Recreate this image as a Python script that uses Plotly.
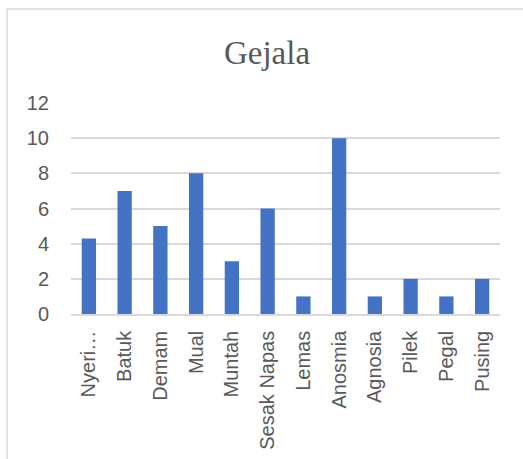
import plotly.graph_objects as go

categories = ["Nyeri…", "Batuk", "Demam", "Mual", "Muntah", "Sesak Napas",
              "Lemas", "Anosmia", "Agnosia", "Pilek", "Pegal", "Pusing"]
values = [4.3, 7, 5, 8, 3, 6, 1, 10, 1, 2, 1, 2]
y_ticks = [0, 2, 4, 6, 8, 10, 12]

W, H = 523, 459
ML, MR, MT, MB = 71, 23, 103, 145
pw = W - ML - MR
ph = H - MT - MB

def px(x):
    return (x - ML) / pw

def py(y):
    return (H - MB - y) / ph

fig = go.Figure(go.Bar(x=categories, y=values, marker_color="#4472C4",
                       marker_line_width=0))

fig.update_layout(
    width=W, height=H,
    margin=dict(l=ML, r=MR, t=MT, b=MB, autoexpand=False),
    paper_bgcolor="white", plot_bgcolor="white",
    bargap=0.6,
    showlegend=False,
    title=dict(text="Gejala", x=267 / W, xref="container", xanchor="center",
               y=1 - 52 / H, yref="container", yanchor="middle",
               font=dict(family="Liberation Serif", size=33, color="#595959")),
    font=dict(family="Liberation Sans", color="#595959", size=20),
)
fig.update_yaxes(range=[0, 12], tickvals=y_ticks, showgrid=True,
                 gridcolor="#D9D9D9", gridwidth=1.5, zeroline=False,
                 showline=False, ticks="outside", ticklen=17, automargin=False,
                 tickcolor="rgba(0,0,0,0)", tickfont=dict(size=20, color="#595959"))
fig.update_xaxes(tickangle=-90, showgrid=False, showline=True, automargin=False,
                 linecolor="#D9D9D9", linewidth=1.5, ticks="outside",
                 ticklen=7, tickcolor="rgba(0,0,0,0)",
                 tickfont=dict(size=20, color="#595959"))

fig.add_shape(type="line", xref="paper", yref="paper",
              x0=px(7), x1=px(7), y0=py(9), y1=py(470),
              line=dict(color="#D9D9D9", width=1.5))
fig.add_shape(type="line", xref="paper", yref="paper",
              x0=px(7), x1=px(530), y0=py(9), y1=py(9),
              line=dict(color="#D9D9D9", width=1.5))

fig.write_html("out.html")
